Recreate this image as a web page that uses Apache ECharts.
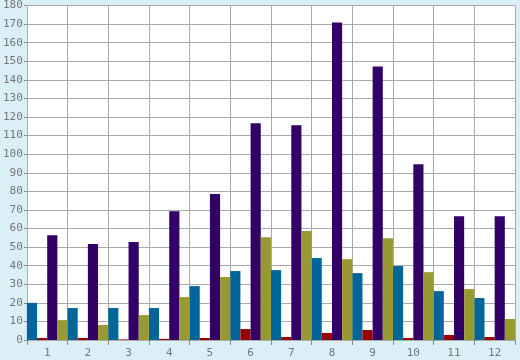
<!DOCTYPE html>
<html>
<head>
<meta charset="utf-8">
<script src="https://cdn.jsdelivr.net/npm/echarts@6/dist/echarts.min.js"></script>
<style>
html,body{margin:0;padding:0;background:#daeff6;}
#chart{width:520px;height:360px;}
</style>
</head>
<body>
<div id="chart"></div>
<script>
const categories = ['1','2','3','4','5','6','7','8','9','10','11','12'];
const blueValues   = [20.0, 17.2, 17.2, 17.2, 29.0, 37.1, 37.6, 44.1, 36.0, 39.8, 26.3, 22.6];
const redValues    = [1.1, 1.1, 0.3, 0.6, 1.1, 5.9, 1.6, 3.8, 5.4, 1.1, 2.7, 1.6];
const purpleValues = [56.4, 51.6, 52.7, 69.3, 78.5, 116.6, 115.5, 170.9, 147.2, 94.6, 66.6, 66.6];
const oliveValues  = [10.7, 8.1, 13.4, 23.1, 33.9, 55.3, 58.6, 43.5, 54.8, 36.5, 27.4, 11.3];
const yTicks = {min: 0, max: 180, interval: 10};

const chart = echarts.init(document.getElementById('chart'), null, {renderer: 'canvas'});
const labelFont = {color: '#777777', fontFamily: 'DejaVu Sans Mono', fontSize: 11};
function bar(name, data, color) {
  return {name, type: 'bar', data, barGap: '0%', barCategoryGap: '0%',
          itemStyle: {color}, animation: false};
}
chart.setOption({
  backgroundColor: '#daeff6',
  animation: false,
  grid: {left: 26, right: 5, top: 5, bottom: 20, show: true, backgroundColor: '#ffffff', borderWidth: 0},
  xAxis: {
    type: 'category', data: categories,
    axisLine: {show: true, lineStyle: {color: '#aaaaaa', width: 1}},
    axisTick: {show: true, length: 5, lineStyle: {color: '#888888'}},
    splitLine: {show: true, lineStyle: {color: '#aaaaaa', width: 1}},
    axisLabel: Object.assign({margin: 8}, labelFont)
  },
  yAxis: {
    type: 'value', min: yTicks.min, max: yTicks.max, interval: yTicks.interval,
    axisLine: {show: true, lineStyle: {color: '#aaaaaa', width: 1}},
    axisTick: {show: true, length: 3, lineStyle: {color: '#888888'}},
    splitLine: {show: true, lineStyle: {color: '#aaaaaa', width: 1}},
    axisLabel: Object.assign({margin: 4}, labelFont)
  },
  series: [
    bar('blue', blueValues, '#006699'),
    bar('red', redValues, '#990000'),
    bar('purple', purpleValues, '#330066'),
    bar('olive', oliveValues, '#999933')
  ]
});
</script>
</body>
</html>
